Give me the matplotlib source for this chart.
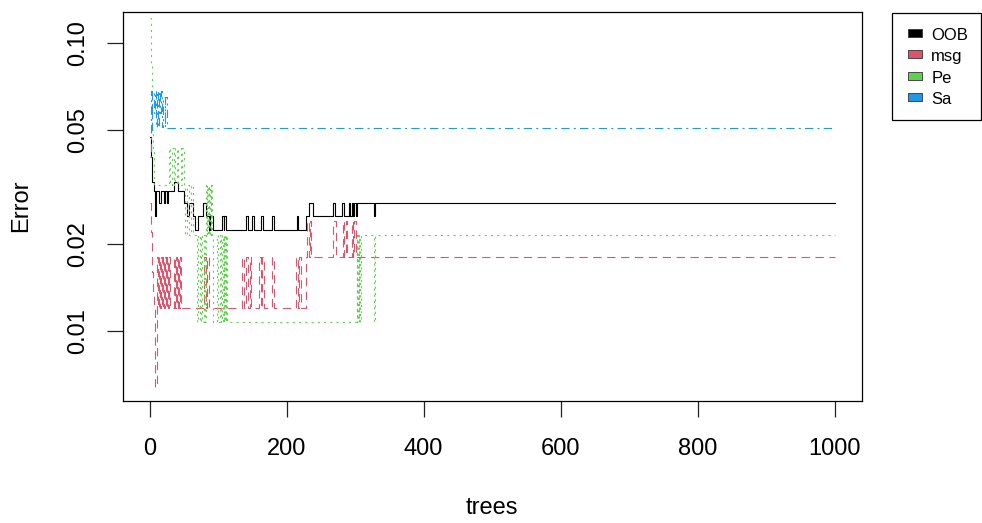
import matplotlib
matplotlib.use('Agg')
import matplotlib.pyplot as plt
from matplotlib.lines import Line2D

plt.rcParams['font.family'] = ['Liberation Sans', 'DejaVu Sans']
plt.rcParams['lines.scale_dashes'] = False

# change points: (first tree of the step, error value)
oob_steps = [(1, 0.047), (2, 0.040), (3, 0.036), (4, 0.033), (6, 0.0305), (8, 0.0251),
             (9, 0.0305), (14, 0.0278), (16, 0.0305), (21, 0.0278), (23, 0.0305), (25, 0.0278),
             (27, 0.0305), (36, 0.0329), (42, 0.0305), (50, 0.0278), (54, 0.0251), (58, 0.0278),
             (63, 0.0251), (66, 0.0224), (70, 0.0251), (78, 0.0278), (82, 0.0251), (86, 0.0224),
             (88, 0.0251), (92, 0.0224), (106, 0.0251), (108, 0.0224), (109, 0.0251),
             (111, 0.0224), (141, 0.0251), (143, 0.0224), (150, 0.0251), (152, 0.0224),
             (163, 0.0251), (165, 0.0224), (179, 0.0251), (181, 0.0224), (215, 0.0251),
             (217, 0.0224), (228, 0.0251), (233, 0.0278), (238, 0.0251), (268, 0.0278),
             (271, 0.0251), (281, 0.0278), (283, 0.0251), (291, 0.0278), (293, 0.0251),
             (295, 0.0278), (297, 0.0251), (299, 0.0278), (301, 0.0251), (303, 0.0278),
             (327, 0.0251), (329, 0.0278), (1000, 0.0278)]

msg_steps = [(1, 0.0278), (2, 0.022), (3, 0.019), (4, 0.016), (5, 0.0138), (6, 0.012),
             (8, 0.0064), (10, 0.018), (12, 0.012), (13, 0.018), (15, 0.012), (16, 0.018),
             (18, 0.012), (19, 0.018), (21, 0.012), (22, 0.018), (24, 0.012), (25, 0.018),
             (27, 0.012), (28, 0.018), (29, 0.012), (35, 0.018), (37, 0.012), (38, 0.018),
             (40, 0.012), (41, 0.018), (43, 0.012), (44, 0.018), (46, 0.012), (80, 0.018),
             (82, 0.012), (84, 0.018), (86, 0.012), (135, 0.018), (137, 0.012), (141, 0.018),
             (143, 0.012), (146, 0.018), (148, 0.012), (160, 0.018), (162, 0.012), (164, 0.018),
             (167, 0.012), (179, 0.018), (181, 0.012), (214, 0.018), (216, 0.012), (218, 0.018),
             (221, 0.012), (228, 0.018), (230, 0.024), (232, 0.018), (234, 0.024), (236, 0.018),
             (268, 0.024), (272, 0.018), (282, 0.024), (284, 0.018), (286, 0.024), (288, 0.018),
             (295, 0.024), (297, 0.018), (299, 0.024), (301, 0.018), (1000, 0.018)]

pe_steps = [(1, 0.122), (2, 0.085), (3, 0.065), (4, 0.050), (5, 0.043), (6, 0.032),
            (28, 0.043), (30, 0.032), (32, 0.043), (35, 0.032), (37, 0.043), (40, 0.032),
            (42, 0.043), (45, 0.032), (47, 0.043), (50, 0.032), (52, 0.0215), (55, 0.032),
            (58, 0.0215), (60, 0.032), (63, 0.0215), (69, 0.0107), (71, 0.0215), (73, 0.0107),
            (75, 0.0215), (77, 0.0107), (79, 0.0215), (81, 0.0107), (82, 0.032), (83, 0.0215),
            (84, 0.032), (85, 0.0215), (86, 0.032), (87, 0.0215), (88, 0.032), (89, 0.0215),
            (90, 0.032), (91, 0.0215), (92, 0.0107), (98, 0.0215), (100, 0.0107), (102, 0.0215),
            (104, 0.0107), (106, 0.0215), (107, 0.0107), (108, 0.0215), (109, 0.0107),
            (110, 0.0215), (111, 0.0107), (112, 0.0215), (113, 0.0107), (302, 0.0215),
            (303, 0.0107), (304, 0.0215), (305, 0.0107), (306, 0.0215), (307, 0.0107),
            (308, 0.0215), (327, 0.0107), (329, 0.0215), (1000, 0.0215)]

sa_steps = [(1, 0.040), (2, 0.068), (3, 0.050), (4, 0.068), (6, 0.057), (8, 0.068), (9, 0.051),
            (10, 0.068), (12, 0.051), (14, 0.068), (15, 0.057), (17, 0.068), (18, 0.051),
            (20, 0.065), (22, 0.051), (23, 0.065), (25, 0.0508), (1000, 0.0508)]

labels = ['OOB', 'msg', 'Pe', 'Sa']
colors = ['black', '#DF536B', '#61D04F', '#2297E6']
styles = ['-', (0, (6, 4)), (0, (1.5, 3)), (0, (1.5, 3, 6, 3))]

fig = plt.figure(figsize=(9.82, 5.23), dpi=100)
ax = fig.add_axes([123 / 982, 1 - 401 / 523, (862 - 123) / 982, (401 - 12) / 523])

for steps, c, ls in zip([oob_steps, msg_steps, pe_steps, sa_steps], colors, styles):
    t = [p[0] for p in steps]
    v = [p[1] for p in steps]
    ax.step(t, v, where='post', color=c, linestyle=ls, linewidth=0.8)

ax.set_yscale('log')
ax.set_xlim(-38.96, 1039.96)
ax.set_ylim(0.00571, 0.128)
ax.set_xticks([0, 200, 400, 600, 800, 1000])
ax.set_yticks([0.01, 0.02, 0.05, 0.10])
ax.set_yticklabels(['0.01', '0.02', '0.05', '0.10'], rotation=90, va='center')
ax.yaxis.set_minor_locator(matplotlib.ticker.NullLocator())
ax.tick_params(axis='both', labelsize=17, length=11.5, width=0.9, color='#222222')
ax.tick_params(axis='x', pad=15)
ax.tick_params(axis='y', pad=13)
for s in ax.spines.values():
    s.set_linewidth(0.9)

fig.text(21 / 982, 1 - 206 / 523, 'Error', rotation=90, ha='center', va='center', fontsize=17)
fig.text(492 / 982, 1 - 508 / 523, 'trees', ha='center', va='center', fontsize=17)

box = [(-1, -0.6), (1, -0.6), (1, 0.6), (-1, 0.6), (-1, -0.6)]
handles = [Line2D([], [], linestyle='none', marker=box, markersize=10.5,
                  markerfacecolor=c, markeredgecolor='#333333', markeredgewidth=0.6)
           for c in colors]
leg = fig.legend(handles, labels, loc='upper left', bbox_to_anchor=(892 / 982, 1 - 13 / 523),
                 fontsize=12, frameon=True, fancybox=False, framealpha=1, edgecolor='black',
                 borderpad=0.75, handlelength=1.3, handleheight=1.3, handletextpad=0.3,
                 labelspacing=0.19, borderaxespad=0)
leg.get_frame().set_linewidth(0.9)

fig.savefig('out.png', dpi=100)
